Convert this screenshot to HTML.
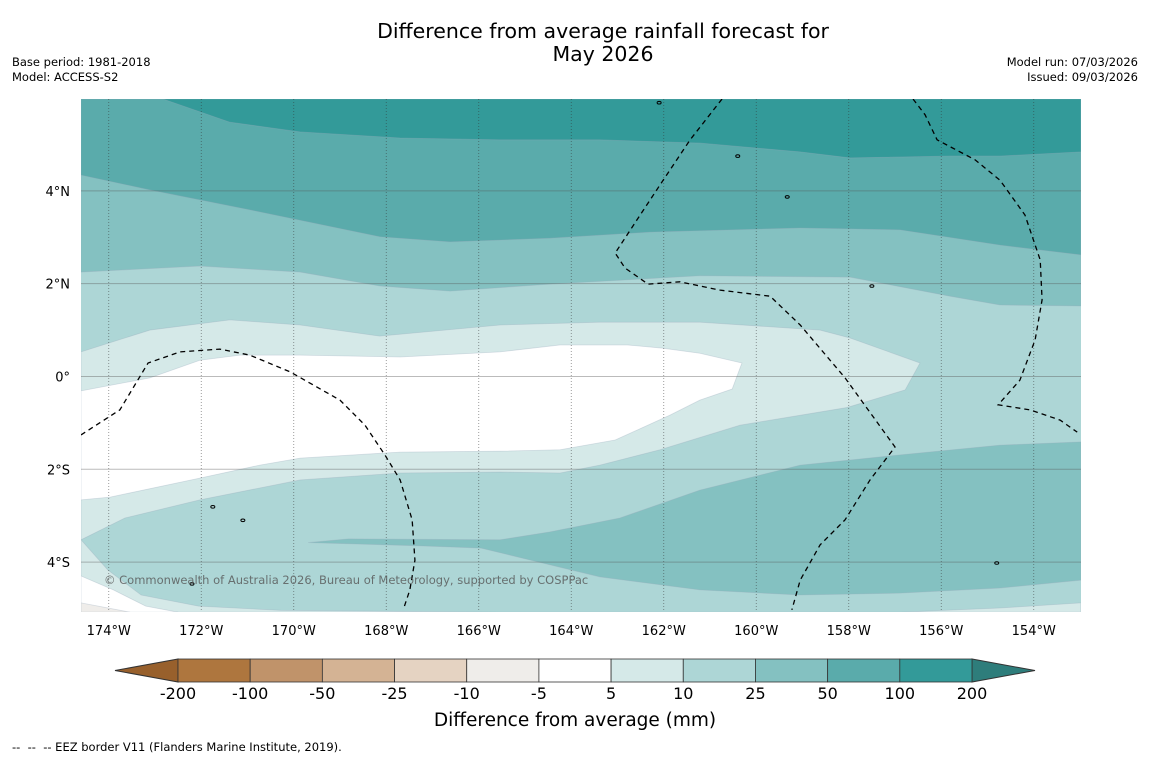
<!DOCTYPE html>
<html><head><meta charset="utf-8"><style>
html,body{margin:0;padding:0;background:#fff;}
svg{display:block;font-family:"DejaVu Sans","Liberation Sans",sans-serif;}
</style></head><body>
<svg id="chart" width="1150" height="758" viewBox="0 0 1150 758">
<text x="603" y="38" text-anchor="middle" font-size="20.5">Difference from average rainfall forecast for</text>
<text x="603" y="61" text-anchor="middle" font-size="20.5">May 2026</text>
<text x="12" y="66" font-size="11.5">Base period: 1981-2018</text>
<text x="12" y="81" font-size="11.5">Model: ACCESS-S2</text>
<text x="1138" y="66" font-size="11.5" text-anchor="end">Model run: 07/03/2026</text>
<text x="1138" y="81" font-size="11.5" text-anchor="end">Issued: 09/03/2026</text>
<defs><clipPath id="plotclip"><rect x="81" y="99" width="1000" height="513"/></clipPath></defs>
<g id="map" clip-path="url(#plotclip)"></g>
<g id="axes"></g>
<text x="104" y="584" font-size="11.5" fill="#555" fill-opacity="0.8">© Commonwealth of Australia 2026, Bureau of Meteorology, supported by COSPPac</text>
<g id="cbar"></g>
<text x="575" y="726" font-size="18.5" text-anchor="middle">Difference from average (mm)</text>
<text x="12" y="751" font-size="11.5" xml:space="preserve">--  --  -- EEZ border V11 (Flanders Marine Institute, 2019).</text>
</svg>
<script>
const lonTicks = [-174,-172,-170,-168,-166,-164,-162,-160,-158,-156,-154];
const latTicks = [4,2,0,-2,-4];
const levels = ["-200","-100","-50","-25","-10","-5","5","10","25","50","100","200"];
const levelColors = ["#ae763e","#c0936a","#d4b394","#e5d3c2","#efedea","#ffffff","#d5e9e8","#add6d6","#84c1c1","#5aabab","#339a99"];
const c10 = "#add6d6";
const regions = [
 {c:"#84c1c1", pts:[[-174.6,5.98],[-152.98,5.98],[-152.98,1.52],[-154.73,1.54],[-155.81,1.73],[-157.97,2.14],[-161.22,2.17],[-164.46,1.99],[-166.62,1.84],[-168.14,1.95],[-169.86,2.25],[-172.03,2.38],[-174.6,2.25]]},
 {c:"#5aabab", pts:[[-174.6,5.98],[-152.98,5.98],[-152.98,2.62],[-154.73,2.83],[-156.89,3.16],[-159.05,3.2],[-162.3,3.11],[-164.46,2.98],[-166.62,2.9],[-168.14,3.01],[-170.95,3.59],[-173.11,4.02],[-174.6,4.34]]},
 {c:"#339a99", pts:[[-172.83,5.98],[-152.98,5.98],[-152.98,4.84],[-154.73,4.75],[-155.81,4.75],[-157.97,4.71],[-159.05,4.84],[-161.22,5.03],[-163.38,5.1],[-165.54,5.1],[-167.7,5.14],[-169.86,5.27],[-171.38,5.48]]},
 {c:"#d5e9e8", pts:[[-174.6,0.53],[-173.11,1.0],[-171.38,1.22],[-169.86,1.11],[-168.14,0.87],[-165.54,1.11],[-163.38,1.17],[-161.22,1.17],[-158.62,1.0],[-157.97,0.83],[-156.46,0.29],[-156.78,-0.29],[-158.04,-0.67],[-160.35,-1.05],[-162.08,-1.58],[-163.38,-1.91],[-164.24,-2.08],[-165.54,-2.06],[-167.7,-2.08],[-169.86,-2.23],[-172.03,-2.66],[-173.65,-3.05],[-174.6,-3.52]]},
 {c:"#ffffff", pts:[[-174.6,-0.31],[-173.11,-0.03],[-172.03,0.35],[-171.16,0.46],[-169.86,0.46],[-167.7,0.42],[-165.54,0.53],[-164.24,0.68],[-162.79,0.68],[-162.02,0.61],[-161.22,0.5],[-160.31,0.29],[-160.52,-0.27],[-161.22,-0.51],[-161.86,-0.83],[-163.05,-1.37],[-164.24,-1.58],[-165.54,-1.61],[-167.7,-1.63],[-169.86,-1.76],[-170.73,-1.91],[-172.03,-2.19],[-173.97,-2.6],[-174.6,-2.66]]},
 {c:"#84c1c1", pts:[[-169.69,-3.58],[-168.82,-3.5],[-165.54,-3.52],[-164.46,-3.35],[-162.95,-3.05],[-161.22,-2.45],[-159.05,-1.91],[-156.89,-1.69],[-154.73,-1.48],[-152.98,-1.41],[-152.98,-4.39],[-154.73,-4.56],[-156.89,-4.67],[-159.05,-4.71],[-161.22,-4.6],[-163.38,-4.32],[-164.87,-3.96],[-165.95,-3.7],[-167.27,-3.65]]},
 {c:"#d5e9e8", pts:[[-174.6,-3.52],[-174.02,-4.17],[-173.3,-4.71],[-172.06,-4.95],[-170.28,-5.04],[-165.54,-5.08],[-156.89,-5.08],[-154.73,-4.99],[-152.98,-4.88],[-152.98,-5.08],[-174.6,-5.08]]},
 {c:"#ffffff", pts:[[-174.6,-4.3],[-173.9,-4.6],[-173.2,-4.95],[-172.5,-5.08],[-174.6,-5.08]]},
 {c:"#efedea", pts:[[-174.6,-4.88],[-173.54,-5.08],[-174.6,-5.08]]}
];
const eezLines = [
 [[-174.6,-1.26],[-173.76,-0.72],[-173.15,0.29],[-172.46,0.53],[-171.6,0.59],[-170.95,0.46],[-170.08,0.1],[-169.0,-0.51],[-168.46,-1.05],[-168.03,-1.69],[-167.7,-2.23],[-167.44,-3.09],[-167.38,-3.96],[-167.49,-4.6],[-167.62,-4.99]],
 [[-160.74,5.98],[-161.43,5.1],[-162.08,4.13],[-162.51,3.48],[-163.05,2.66],[-162.84,2.34],[-162.34,1.99],[-161.65,2.04],[-160.78,1.86],[-159.7,1.73],[-159.05,1.11],[-158.08,-0.03],[-157.0,-1.52],[-157.54,-2.23],[-158.08,-3.09],[-158.62,-3.63],[-159.05,-4.39],[-159.23,-5.03]],
 [[-156.61,5.98],[-156.35,5.64],[-156.09,5.1],[-155.27,4.67],[-154.73,4.23],[-154.19,3.48],[-153.86,2.51],[-153.82,1.65],[-153.97,0.79],[-154.3,-0.08],[-154.77,-0.61],[-154.08,-0.72],[-153.43,-0.94],[-153.06,-1.2]]
];
const islands = [[-159.33,3.87],[-157.5,1.95],[-171.75,-2.81],[-172.2,-4.47],[-160.4,4.75],[-162.1,5.9],[-171.1,-3.1],[-154.8,-4.02]];

const NS="http://www.w3.org/2000/svg";
const X = lon => 81 + (lon + 174.6) * 46.25;
const Y = lat => 99 + (5.98 - lat) * 46.4;
function mk(tag, attrs, parent){const e=document.createElementNS(NS,tag);for(const k in attrs)e.setAttribute(k,attrs[k]);parent.appendChild(e);return e;}
const map=document.getElementById('map'), axes=document.getElementById('axes'), cbar=document.getElementById('cbar');

let bg=mk('rect',{x:81,y:99,width:1000,height:513,fill:c10},map);


regions.forEach((r,i)=>{
  const p=mk('polygon',{points:r.pts.map(q=>X(q[0])+','+Y(q[1])).join(' '),fill:r.c,stroke:'#9ab',"stroke-opacity":0.35,"stroke-width":0.8},map);
  
  
});
lonTicks.forEach(l=>{
  const ln=mk('line',{x1:X(l),x2:X(l),y1:99,y2:612,stroke:'#333',"stroke-opacity":0.6,"stroke-width":0.8,"stroke-dasharray":"1,2"},map);
  
  
});
latTicks.forEach(l=>{
  const ln=mk('line',{x1:81,x2:1081,y1:Y(l),y2:Y(l),stroke:'#555',"stroke-opacity":0.4,"stroke-width":1},map);
  
  
});
eezLines.forEach(line=>{
  const pl=mk('polyline',{points:line.map(q=>X(q[0])+','+Y(q[1])).join(' '),fill:'none',stroke:'#000',"stroke-width":1.3,"stroke-dasharray":"5,4"},map);
  
  
});
islands.forEach(q=>{
  const e=mk('ellipse',{cx:X(q[0]),cy:Y(q[1]),rx:2,ry:1.3,fill:'none',stroke:'#000',"stroke-width":1},map);
  
  
});
lonTicks.forEach(l=>{
  const t=mk('text',{x:X(l),y:635,"font-size":13,"text-anchor":"middle"},axes);
  t.textContent=Math.abs(l)+'°W';
  
  
});
latTicks.forEach(l=>{
  const t=mk('text',{x:70,y:Y(l)+5,"font-size":13,"text-anchor":"end"},axes);
  t.textContent=l===0?'0°':Math.abs(l)+'°'+(l>0?'N':'S');
  
  
});
const cx0=178,cx1=972,cy0=659,cy1=682,seg=(cx1-cx0)/levelColors.length;
let tl=mk('polygon',{points:`${cx0},${cy0} ${cx0},${cy1} 115,${(cy0+cy1)/2}`,fill:'#98602c',stroke:'#333',"stroke-width":1},cbar);


let tr=mk('polygon',{points:`${cx1},${cy0} ${cx1},${cy1} 1035,${(cy0+cy1)/2}`,fill:'#2e7d7b',stroke:'#333',"stroke-width":1},cbar);


levelColors.forEach((c,i)=>{
  const r=mk('rect',{x:cx0+i*seg,y:cy0,width:seg,height:cy1-cy0,fill:c,stroke:'#333',"stroke-width":0.8},cbar);
  
  
});
levels.forEach((lv,i)=>{
  const t=mk('text',{x:cx0+i*seg,y:699,"font-size":16,"text-anchor":"middle"},cbar);
  t.textContent=lv;
  
  
});
</script>
</body></html>
